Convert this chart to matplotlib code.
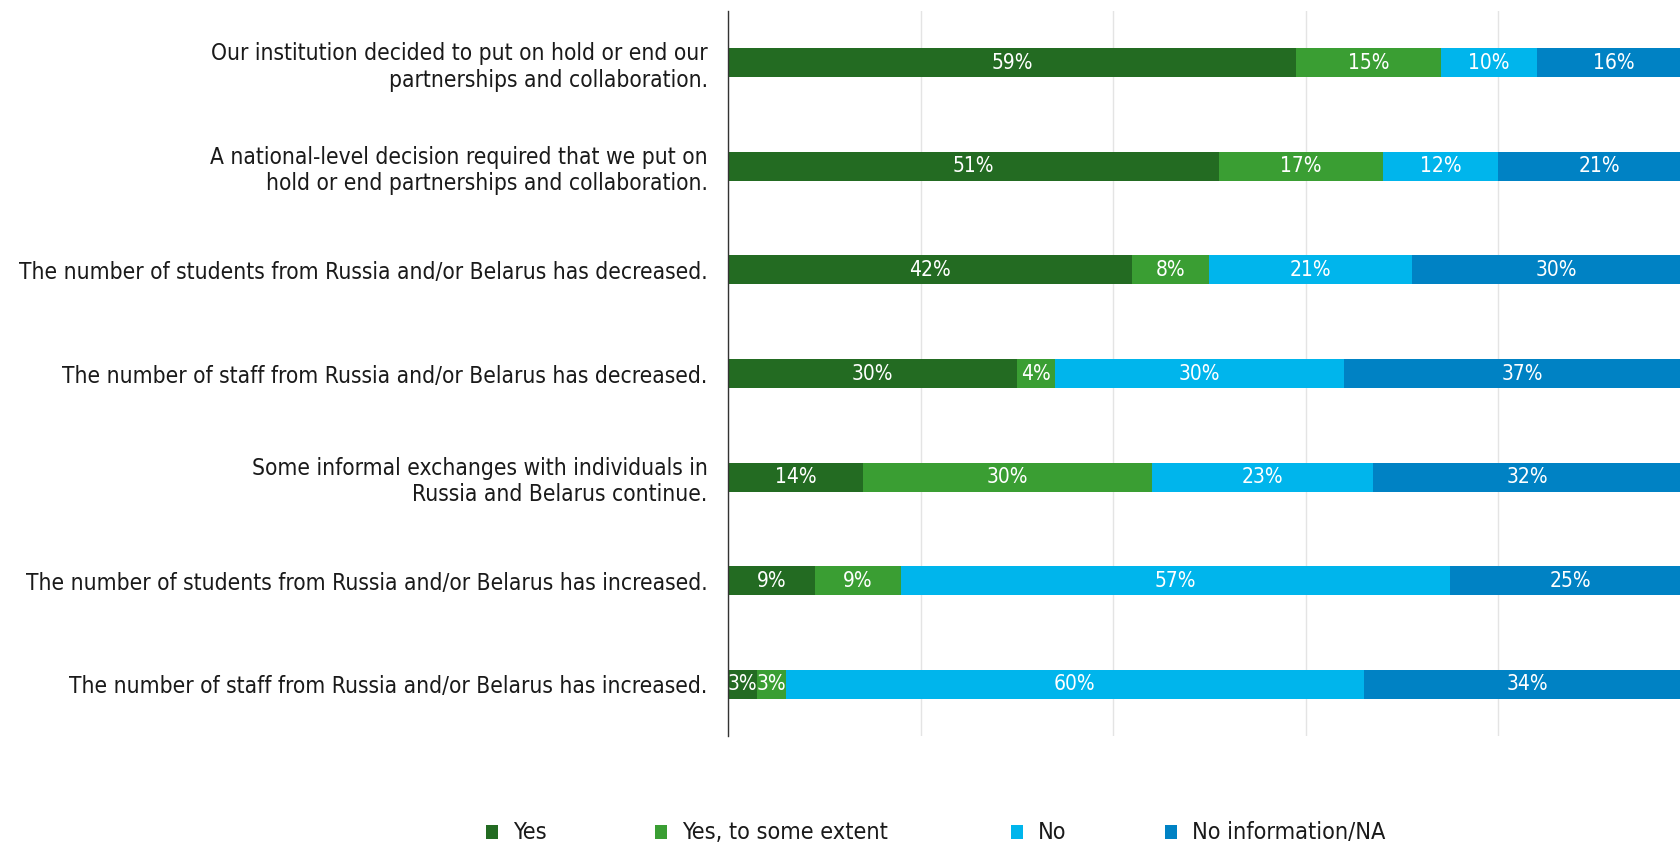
import matplotlib
matplotlib.use("Agg")
import matplotlib.pyplot as plt
from matplotlib.patches import Rectangle
import numpy as np

categories = [
    "Our institution decided to put on hold or end our\npartnerships and collaboration.",
    "A national-level decision required that we put on\nhold or end partnerships and collaboration.",
    "The number of students from Russia and/or Belarus has decreased.",
    "The number of staff from Russia and/or Belarus has decreased.",
    "Some informal exchanges with individuals in\nRussia and Belarus continue.",
    "The number of students from Russia and/or Belarus has increased.",
    "The number of staff from Russia and/or Belarus has increased.",
]
series_names = ["Yes", "Yes, to some extent", "No", "No information/NA"]
yes = [59, 51, 42, 30, 14, 9, 3]
yes_some = [15, 17, 8, 4, 30, 9, 3]
no = [10, 12, 21, 30, 23, 57, 60]
no_info = [16, 21, 30, 37, 32, 25, 34]
colors = ["#236b22", "#3a9e33", "#00b5ec", "#0082c4"]

plt.rcParams["font.family"] = ["DejaVu Sans"]
fig = plt.figure(figsize=(16.81, 8.47), dpi=100)
ax = fig.add_axes([728 / 1681, 1 - 736 / 847, 963 / 1681, 725 / 847])

y = np.arange(len(categories))
left = np.zeros(len(categories))
for name, vals, c in zip(series_names, [yes, yes_some, no, no_info], colors):
    vals = np.array(vals, dtype=float)
    ax.barh(y, vals, left=left, height=0.28, color=c, label=name, zorder=3)
    for yi, l, v in zip(y, left, vals):
        ax.text(l + v / 2, yi, f"{int(v)}%", ha="center", va="center",
                color="white", fontsize=15, fontstretch="condensed", zorder=4)
    left += vals

ax.set_xlim(0, 100)
ax.set_ylim(len(categories) - 0.5, -0.5)
ax.set_xticks([0, 20, 40, 60, 80, 100])
ax.set_xticklabels([])
ax.set_yticks(y)
ax.set_yticklabels(categories, fontsize=16.3, color="#1a1a1a",
                   fontstretch="condensed", linespacing=1.2)
ax.tick_params(axis="both", length=0, pad=14.5)
ax.grid(axis="x", color="#e4e4e4", linewidth=1, zorder=0)
for s in ["top", "right", "bottom"]:
    ax.spines[s].set_visible(False)
ax.spines["left"].set_color("#333333")
ax.spines["left"].set_linewidth(1)
ax.spines["left"].set_zorder(5)

# legend row along the bottom
leg_x = [486, 655, 1011, 1165]
leg_y = 832
for name, c, xp in zip(series_names, colors, leg_x):
    fig.patches.append(Rectangle((xp / 1681, 1 - (leg_y + 7) / 847), 12 / 1681, 14 / 847,
                                 transform=fig.transFigure, facecolor=c, edgecolor="none"))
    fig.text((xp + 27) / 1681, 1 - leg_y / 847, name, ha="left", va="center",
             fontsize=16.8, color="#1a1a1a", fontstretch="condensed")

fig.savefig("out.png", dpi=100)
